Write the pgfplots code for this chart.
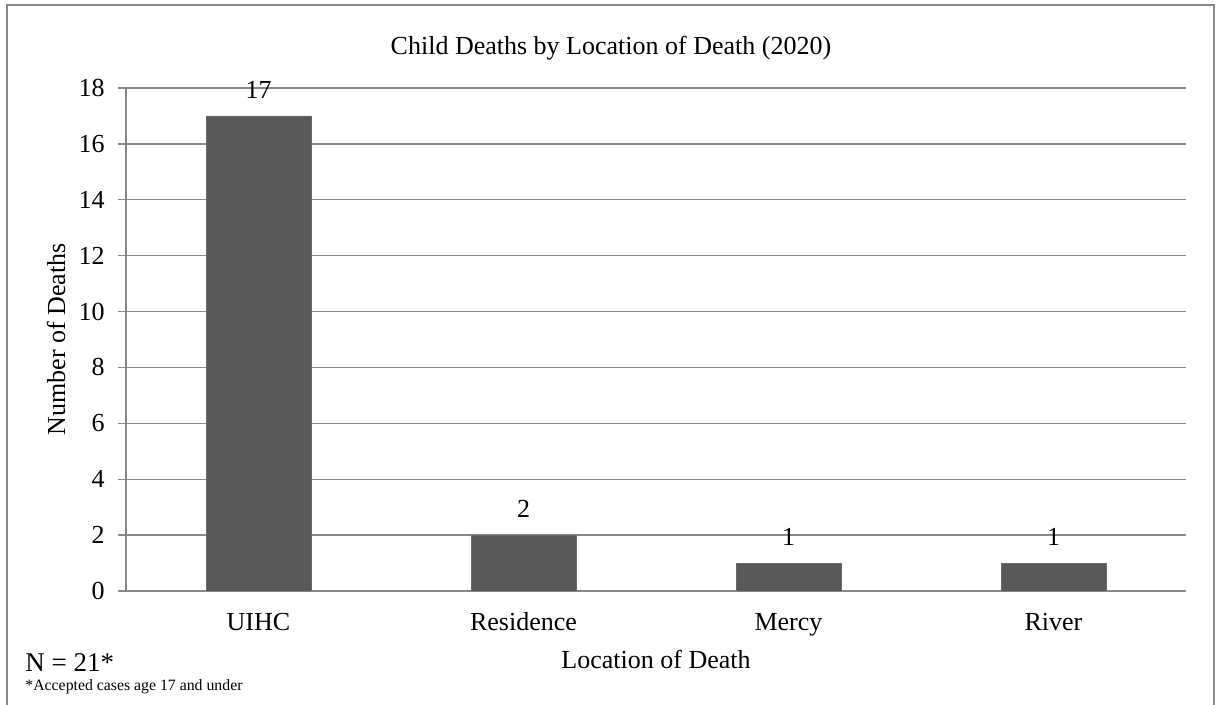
\documentclass[border=0pt]{standalone}
\usepackage{pgfplots}
\pgfplotsset{compat=1.18}
\usepackage{fontspec}
\setmainfont{Liberation Serif}

\definecolor{barfill}{HTML}{595959}
\definecolor{gridgray}{HTML}{878787}

\begin{document}
\fontsize{13}{15}\selectfont
\begin{tikzpicture}
  \useasboundingbox (-63pt,-57pt) rectangle (546pt,295.5pt);
  \draw[gridgray, line width=1.2pt] (-59.5pt,-57pt) -- (-59.5pt,293pt) -- (544pt,293pt) -- (544pt,-57pt);
  \begin{axis}[
    at={(0pt,0pt)}, anchor=south west,
    scale only axis,
    width=530pt, height=251.5pt,
    xmin=-0.5, xmax=3.5,
    ymin=0, ymax=18,
    ytick={0,2,4,6,8,10,12,14,16,18},
    xtick=data,
    xticklabels={UIHC, Residence, Mercy, River},
    /pgf/number format/assume math mode=true,
    axis x line*=bottom,
    axis y line*=left,
    axis line style={gridgray, line width=0.7pt},
    x tick style={draw=none},
    y tick style={gridgray, line width=0.7pt},
    tick align=outside,
    major tick length=4pt,
    ymajorgrids=true,
    grid style={gridgray, line width=0.7pt},
    yticklabel style={anchor=east, inner sep=0pt, xshift=-6.5pt},
    xticklabel style={anchor=base, inner sep=0pt, yshift=-15.5pt},
    title={Child Deaths by Location of Death (2020)},
    title style={at={(0.4575,1.0418)}, anchor=base, yshift=0pt, inner sep=0pt},
    xlabel={Location of Death},
    xlabel style={at={(0.5,-0.155)}, anchor=base, inner sep=0pt},
    ylabel={Number of Deaths},
    ylabel style={at={(-0.066,0.5)}, anchor=center, rotate=0},
    ybar,
    bar width=52.5pt,
    nodes near coords,
    nodes near coords style={anchor=south, inner sep=0pt, yshift=8.7pt, font=\fontsize{13}{15}\selectfont},
  ]
    \addplot[fill=barfill, draw=barfill!90!white, bar shift=0pt] coordinates {
      (0,17) (1,2) (2,1) (3,1)
    };
  \end{axis}
  \node[anchor=base west, inner sep=0pt, font=\fontsize{13.5}{15}\selectfont] at (-50.5pt,-40.5pt) {N = 21*};
  \node[anchor=base west, inner sep=0pt, font=\fontsize{7.9}{9}\selectfont] at (-50.5pt,-49.5pt) {*Accepted cases age 17 and under};
\end{tikzpicture}
\end{document}
